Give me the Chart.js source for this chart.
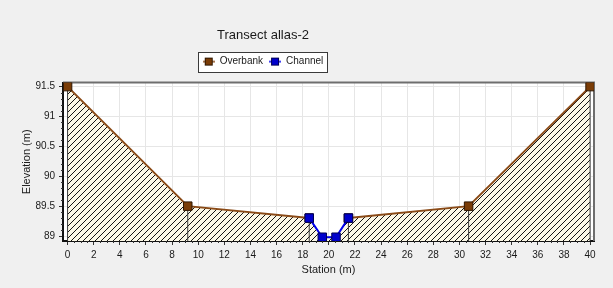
<!DOCTYPE html>
<html>
<head>
<meta charset="utf-8">
<script src="https://cdn.jsdelivr.net/npm/chart.js@4/dist/chart.umd.min.js"></script>
<style>
html,body{margin:0;padding:0;background:#f0f0f0;}
canvas{display:block;}
</style>
</head>
<body>
<canvas id="c" width="613" height="288"></canvas>
<script>
// ---- data ----
const chartTitle = "Transect allas-2";
const overbankStations = [0, 9.2, 18.5, null, 21.5, 30.7, 40];
const overbankElev     = [91.5, 89.5, 89.3, null, 89.3, 89.5, 91.5];
const channelStations  = [18.5, 19.5, 20.55, 21.5];
const channelElev      = [89.3, 88.98, 88.98, 89.3];
const xAxisTitle = "Station (m)";
const yAxisTitle = "Elevation (m)";
const seriesNames = ["Overbank", "Channel"];

// axis range
const X_MIN = -0.35, X_MAX = 40.3;
const Y_MIN = 88.917, Y_MAX = 91.567;
const HEADER_SHIFT = -34; // title/legend centre offset

// ---- derived ----
const overbankData = overbankStations.map((s, i) => s === null ? {x: null, y: null} : {x: s, y: overbankElev[i]});
const channelData = channelStations.map((s, i) => ({x: s, y: channelElev[i]}));
const profile = [];
overbankStations.forEach((s, i) => { if (s !== null && s <= channelStations[0]) profile.push({x: s, y: overbankElev[i]}); });
channelStations.forEach((s, i) => { if (i > 0 && i < channelStations.length - 1) profile.push({x: s, y: channelElev[i]}); });
overbankStations.forEach((s, i) => { if (s !== null && s >= channelStations[channelStations.length - 1]) profile.push({x: s, y: overbankElev[i]}); });
const dropData = [];
overbankStations.forEach((s, i) => {
  if (s === null) return;
  dropData.push({x: s, y: Y_MIN}, {x: s, y: overbankElev[i]}, {x: s, y: null});
});

function makeHatch() {
  const c = document.createElement('canvas');
  const n = 6;
  c.width = n; c.height = n;
  const g = c.getContext('2d');
  g.fillStyle = '#fcf8e6';
  g.fillRect(0, 0, n, n);
  g.strokeStyle = '#141414';
  g.lineWidth = 1;
  g.beginPath();
  g.moveTo(-1, n + 1); g.lineTo(n + 1, -1);
  g.moveTo(-1, 1); g.lineTo(1, -1);
  g.moveTo(n - 1, n + 1); g.lineTo(n + 1, n - 1);
  g.stroke();
  return g.createPattern(c, 'repeat');
}
function legendIcon(fill, stroke, line) {
  const c = document.createElement('canvas');
  c.width = 12; c.height = 10;
  const g = c.getContext('2d');
  g.strokeStyle = line; g.lineWidth = 1.5;
  g.beginPath(); g.moveTo(0, 5); g.lineTo(12, 5); g.stroke();
  g.fillStyle = fill; g.fillRect(2.5, 1.5, 7, 7);
  g.strokeStyle = stroke; g.lineWidth = 1; g.strokeRect(2.5, 1.5, 7, 7);
  return c;
}

const OB_LINE = '#8a4a17', OB_FILL = '#7a3c06', OB_EDGE = '#2e1600';
const CH_LINE = '#0000ee', CH_FILL = '#0000cc', CH_EDGE = '#000055';

Chart.defaults.font.family = '"Liberation Sans", Arial, sans-serif';
Chart.defaults.color = '#1a1a1a';

const framePlugin = {
  id: 'frame',
  beforeLayout(chart) {
    const lg = chart.legend;
    if (lg && !lg._fitWrapped) {
      const f = lg.fit;
      lg.fit = function () { f.call(this); this.height += 6; };
      lg._fitWrapped = true;
    }
  },
  afterLayout(chart) {
    const t = chart.titleBlock;
    if (t) { t.left += HEADER_SHIFT; t.right += HEADER_SHIFT; }
    const lg = chart.legend;
    if (lg) { lg.left += HEADER_SHIFT; lg.right += HEADER_SHIFT; }
  },
  beforeDraw(chart) {
    const {ctx, chartArea: a} = chart;
    ctx.save();
    ctx.fillStyle = '#ffffff';
    ctx.fillRect(a.left, a.top, a.right - a.left, a.bottom - a.top);
    const lg = chart.legend;
    if (lg && lg.legendHitBoxes && lg.legendHitBoxes.length) {
      const hb = lg.legendHitBoxes;
      let l = Infinity, r = -Infinity, t = Infinity, b = -Infinity;
      hb.forEach(h => { l = Math.min(l, h.left); r = Math.max(r, h.left + h.width); t = Math.min(t, h.top); b = Math.max(b, h.top + h.height); });
      ctx.fillStyle = '#ffffff';
      ctx.strokeStyle = '#3a3a3a';
      ctx.lineWidth = 1;
      const L = Math.round(l - 5) + 0.5, R = Math.round(r + 4) + 0.5, T = Math.round(t - 5) + 0.5, B = Math.round(b + 5) + 0.5;
      ctx.fillRect(L, T, R - L, B - T);
      ctx.strokeRect(L, T, R - L, B - T);
    }
    ctx.restore();
  },
  beforeDatasetsDraw(chart) {
    const {ctx, chartArea: a, scales} = chart;
    ctx.save();
    ctx.strokeStyle = '#6e6e6e';
    ctx.lineWidth = 2;
    ctx.beginPath();
    ctx.moveTo(a.left, a.top); ctx.lineTo(a.right, a.top); ctx.lineTo(a.right, a.bottom);
    ctx.stroke();
    ctx.strokeStyle = '#333';
    ctx.lineWidth = 1;
    ctx.beginPath();
    for (let v = 0; v <= 40.001; v += 0.5) {
      if (Math.abs(v / 2 - Math.round(v / 2)) < 1e-6) continue;
      const px = Math.round(scales.x.getPixelForValue(v)) + 0.5;
      ctx.moveTo(px, a.bottom); ctx.lineTo(px, a.bottom + 2);
    }
    for (let v = 89; v <= 91.5001; v += 0.1) {
      if (Math.abs(v * 2 - Math.round(v * 2)) < 1e-6) continue;
      const py = Math.round(scales.y.getPixelForValue(v)) + 0.5;
      ctx.moveTo(a.left - 2, py); ctx.lineTo(a.left, py);
    }
    ctx.stroke();
    ctx.restore();
  }
};

new Chart(document.getElementById('c'), {
  type: 'line',
  data: {
    datasets: [
      {
        label: seriesNames[1], data: channelData, order: 0,
        borderColor: CH_LINE, borderWidth: 2, backgroundColor: CH_FILL,
        pointStyle: 'rect', pointRadius: 6, pointBackgroundColor: CH_FILL,
        pointBorderColor: CH_EDGE, pointBorderWidth: 1, fill: false
      },
      {
        label: seriesNames[0], data: overbankData, order: 1,
        borderColor: OB_LINE, borderWidth: 2, backgroundColor: OB_FILL,
        pointStyle: 'rect', pointRadius: 6, pointBackgroundColor: OB_FILL,
        pointBorderColor: OB_EDGE, pointBorderWidth: 1, fill: false, spanGaps: false
      },
      {
        label: '_drop', data: dropData, order: 5,
        borderColor: '#3c3c3c', borderWidth: 1, pointRadius: 0, fill: false, spanGaps: false
      },
      {
        label: '_ground', data: profile, order: 10,
        borderWidth: 0, borderColor: 'rgba(0,0,0,0)', pointRadius: 0,
        backgroundColor: makeHatch(), fill: 'start'
      }
    ]
  },
  options: {
    responsive: false,
    devicePixelRatio: 1,
    animation: false,
    events: [],
    layout: {padding: {left: 0, right: 19, top: 0, bottom: 0}},
    plugins: {
      title: {
        display: true, text: chartTitle, color: '#1a1a1a',
        font: {size: 13, weight: 'normal'}, padding: {top: 28, bottom: 7}
      },
      legend: {
        display: true, position: 'top', reverse: true,
        labels: {
          filter: item => !item.text.startsWith('_'),
          usePointStyle: true, pointStyleWidth: 12,
          generateLabels(chart) {
            const items = Chart.defaults.plugins.legend.labels.generateLabels(chart);
            items.forEach(it => {
              if (it.text === seriesNames[0]) it.pointStyle = legendIcon(OB_FILL, OB_EDGE, OB_LINE);
              if (it.text === seriesNames[1]) it.pointStyle = legendIcon(CH_FILL, CH_EDGE, CH_LINE);
            });
            return items;
          },
          font: {size: 10}, color: '#1a1a1a', padding: 6
        }
      },
      tooltip: {enabled: false}
    },
    scales: {
      x: {
        type: 'linear', min: X_MIN, max: X_MAX,
        afterFit(s) { s.height = 47; },
        ticks: {stepSize: 2, includeBounds: false, autoSkip: false, maxRotation: 0, padding: 4, font: {size: 10}, color: '#1a1a1a'},
        grid: {color: '#e6e6e6', tickColor: '#333', tickLength: 4, drawTicks: true},
        border: {color: '#111', width: 2},
        title: {display: true, text: xAxisTitle, font: {size: 11}, color: '#1a1a1a', padding: {top: 0, bottom: 11}}
      },
      y: {
        type: 'linear', min: Y_MIN, max: Y_MAX,
        afterFit(s) { s.width = 63; },
        ticks: {
          stepSize: 0.5, includeBounds: false, padding: 4, font: {size: 10}, color: '#1a1a1a',
          callback: v => String(Math.round(v * 100) / 100)
        },
        grid: {color: '#e6e6e6', tickColor: '#333', tickLength: 4},
        border: {color: '#111', width: 2},
        title: {display: true, text: yAxisTitle, font: {size: 11}, color: '#1a1a1a', padding: {top: 20, bottom: 0}}
      }
    }
  },
  plugins: [framePlugin]
});
</script>
</body>
</html>
